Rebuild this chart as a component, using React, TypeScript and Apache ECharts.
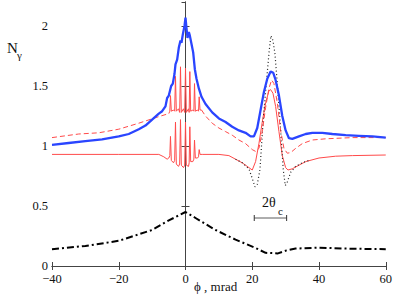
import React, { useEffect, useRef } from "react";
import * as echarts from "echarts";

// Thick blue curve
const blueX = [-40, -35, -30, -25, -20, -17, -14, -12, -10, -8, -7, -6, -5.5, -5, -4.3, -3.8, -3.3, -3, -2.5, -2, -1.5, -1.2, -0.8, -0.3, 0, 0.3, 0.6, 1.0, 1.3, 1.8, 2.3, 2.8, 3.3, 4, 4.8, 6, 8, 10, 12, 14, 16, 18, 19.5, 20.5, 21.5, 22.5, 23.5, 24.5, 25.5, 26.3, 27, 28, 29, 30, 31, 32, 34, 36, 38, 41, 44, 48, 52, 56, 60];
const blueY = [1.01, 1.025, 1.04, 1.055, 1.08, 1.1, 1.14, 1.17, 1.22, 1.27, 1.29, 1.33, 1.4, 1.42, 1.5, 1.52, 1.6, 1.68, 1.72, 1.82, 1.88, 1.86, 1.93, 2.0, 2.07, 1.98, 1.9, 1.95, 1.92, 1.85, 1.78, 1.64, 1.56, 1.48, 1.41, 1.35, 1.28, 1.23, 1.2, 1.16, 1.13, 1.11, 1.08, 1.08, 1.15, 1.3, 1.45, 1.56, 1.62, 1.61, 1.55, 1.42, 1.25, 1.13, 1.065, 1.06, 1.08, 1.1, 1.11, 1.11, 1.1, 1.09, 1.085, 1.08, 1.07];

// Red dashed curve (left part, oscillating middle part, right part)
const dashLX = [-40, -32, -26, -20, -14, -8, -5];
const dashLY = [1.07, 1.1, 1.11, 1.14, 1.19, 1.245, 1.27];
const oscUX = [-5, -4.7, -4.5, -4.25, -3.6, -3.25, -3.0, -2.75, -2.1, -1.75, -1.5, -1.25, -0.6, -0.25, 0, 0.25, 0.9, 1.1, 1.3, 1.55, 2.2, 2.5, 2.7, 2.95, 3.6, 3.9, 4.1, 4.35, 4.8];
const oscUY = [1.27, 1.29, 1.42, 1.29, 1.3, 1.29, 1.58, 1.29, 1.31, 1.28, 1.66, 1.28, 1.31, 1.28, 1.65, 1.28, 1.31, 1.28, 1.62, 1.29, 1.3, 1.29, 1.52, 1.29, 1.3, 1.29, 1.41, 1.3, 1.3];
const dashRX = [4.8, 6, 8, 10, 12, 14, 16, 18, 20, 21, 22, 23, 24, 25, 25.8, 26.5, 27.5, 28.5, 29.5, 30.5, 31.5, 33, 35, 38, 42, 50, 60];
const dashRY = [1.3, 1.25, 1.19, 1.15, 1.12, 1.09, 1.05, 1.02, 0.97, 0.955, 0.98, 1.12, 1.32, 1.48, 1.55, 1.52, 1.36, 1.13, 0.98, 0.94, 0.945, 0.98, 1.02, 1.05, 1.06, 1.07, 1.07];

// Thin red solid curve
const redX = [-40, -20, -8, -6.5, -5.5, -5, -4.7, -4.5, -4.25, -3.6, -3.25, -3.0, -2.75, -2.1, -1.75, -1.5, -1.25, -0.6, -0.25, 0, 0.25, 0.9, 1.1, 1.3, 1.55, 2.2, 2.5, 2.7, 2.95, 3.6, 3.9, 4.1, 4.35, 5, 10, 13, 15, 17, 19, 20, 21, 22, 23, 24, 25, 25.5, 26.2, 27, 28, 29, 30, 30.7, 32, 34, 36, 40, 45, 50, 60];
const redY = [0.93, 0.93, 0.93, 0.91, 0.89, 0.9, 0.92, 1.08, 0.88, 0.86, 0.88, 1.2, 0.85, 0.83, 0.85, 1.22, 0.84, 0.82, 0.84, 1.2, 0.84, 0.83, 0.86, 1.16, 0.87, 0.87, 0.89, 1.05, 0.9, 0.9, 0.91, 0.97, 0.93, 0.93, 0.93, 0.92, 0.89, 0.86, 0.82, 0.8, 0.87, 1.02, 1.2, 1.36, 1.46, 1.47, 1.44, 1.33, 1.12, 0.92, 0.82, 0.8, 0.81, 0.84, 0.87, 0.9, 0.915, 0.92, 0.925];

// Dotted black curve
const dotX = [15, 17, 19, 20, 20.8, 21.5, 22.3, 23.3, 24.3, 25.1, 25.6, 26.2, 26.8, 27.5, 28.3, 29.3, 29.9, 30.5, 31.5, 33, 35, 37];
const dotY = [0.89, 0.86, 0.81, 0.73, 0.66, 0.68, 0.8, 1.22, 1.55, 1.8, 1.92, 1.88, 1.77, 1.52, 1.22, 0.8, 0.67, 0.7, 0.78, 0.83, 0.86, 0.88];

// Dash-dot black curve
const ddX = [-40, -30, -20, -10, -5, 0, 3, 9, 15, 21, 24, 27.7, 30.3, 33, 40, 48, 60];
const ddY = [0.14, 0.167, 0.21, 0.3, 0.38, 0.45, 0.4, 0.3, 0.22, 0.15, 0.11, 0.105, 0.13, 0.145, 0.153, 0.145, 0.14];

// 2θc marker
const markX = [20.6, 30.3];
const markY = [0.4, 0.4];

const xTicks = { min: -40, max: 60, interval: 20 };
const yTicks = { min: 0, max: 2.2, interval: 0.5 };

const zip = (xs: number[], ys: number[]) => xs.map((x, i) => [x, ys[i]]);

export default function App() {
  const ref = useRef<HTMLDivElement>(null);
  useEffect(() => {
    if (!ref.current) return;
    const chart = echarts.init(ref.current, null, { renderer: "svg" });
    const serif = "'Liberation Serif', 'DejaVu Serif', serif";
    const axisLineStyle = { color: "#444", width: 1 };
    const baseX = {
      type: "value" as const,
      min: xTicks.min,
      max: xTicks.max,
      interval: xTicks.interval,
      splitLine: { show: false },
      axisLine: { show: true, lineStyle: axisLineStyle },
      axisTick: { show: true, inside: true, length: 4, lineStyle: axisLineStyle },
    };
    const baseY = {
      type: "value" as const,
      min: yTicks.min,
      max: yTicks.max,
      interval: yTicks.interval,
      splitLine: { show: false },
      axisLine: { show: true, lineStyle: axisLineStyle },
      axisTick: { show: true, inside: true, length: 4, lineStyle: axisLineStyle },
    };
    const line = (data: number[][], color: string, width: number, type: any, z: number) => ({
      type: "line",
      data,
      showSymbol: false,
      symbol: "none",
      smooth: false,
      z,
      lineStyle: { color, width, type },
      itemStyle: { color },
      silent: true,
    });
    chart.setOption({
      animation: false,
      backgroundColor: "#fff",
      textStyle: { fontFamily: serif },
      grid: { left: 52, right: 9, top: 2, bottom: 30 },
      xAxis: [
        {
          ...baseX,
          position: "bottom",
          axisLabel: {
            fontFamily: serif,
            fontSize: 12.5,
            color: "#111",
            margin: 6,
            formatter: (v: number) => String(v).replace("-", "\u2212"),
          },
        },
        { ...baseX, position: "top", axisLabel: { show: false } },
      ],
      yAxis: [
        {
          ...baseY,
          position: "left",
          axisLabel: {
            fontFamily: serif,
            fontSize: 12.5,
            color: "#111",
            margin: 4,
            showMaxLabel: false,
            formatter: (v: number) => (v > 2.05 ? "" : String(v)),
          },
        },
        { ...baseY, position: "right", axisLabel: { show: false } },
      ],
      series: [
        line(zip(ddX, ddY), "#000", 2, [7, 3, 2, 3], 2),
        line(zip(redX, redY), "#ff4a4a", 1, "solid", 3),
        line(zip(dotX, dotY), "#222", 1.2, [1, 2.5], 4),
        line(zip(dashLX, dashLY), "#ff4a4a", 1, [5, 3], 5),
        line(zip(oscUX, oscUY), "#ff4a4a", 1, "solid", 5),
        line(zip(dashRX, dashRY), "#ff4a4a", 1, [5, 3], 5),
        line(zip(blueX, blueY), "#2a45ff", 2.3, "solid", 6),
        {
          type: "line",
          data: zip(markX, markY),
          symbol: "rect",
          symbolSize: [1, 6],
          showSymbol: true,
          lineStyle: { color: "#333", width: 0.8 },
          itemStyle: { color: "#333" },
          z: 7,
          silent: true,
        },
      ],
      graphic: [
        {
          type: "text",
          left: 262,
          top: 195,
          style: { text: "2θ", fontFamily: serif, fontSize: 14, fill: "#111" },
        },
        {
          type: "text",
          left: 278,
          top: 205,
          style: { text: "c", fontFamily: serif, fontSize: 11, fill: "#111" },
        },
        {
          type: "text",
          left: 7,
          top: 40,
          style: { text: "N", fontFamily: serif, fontSize: 15, fill: "#111" },
        },
        {
          type: "text",
          left: 17,
          top: 49,
          style: { text: "γ", fontFamily: serif, fontSize: 11, fill: "#111" },
        },
        {
          type: "text",
          left: 194,
          top: 280,
          style: { text: "ϕ , mrad", fontFamily: serif, fontSize: 13, fill: "#111" },
        },
      ],
    });
    return () => chart.dispose();
  }, []);
  return <div ref={ref} style={{ width: 395, height: 296, position: "absolute", left: 0, top: 0 }} />;
}
